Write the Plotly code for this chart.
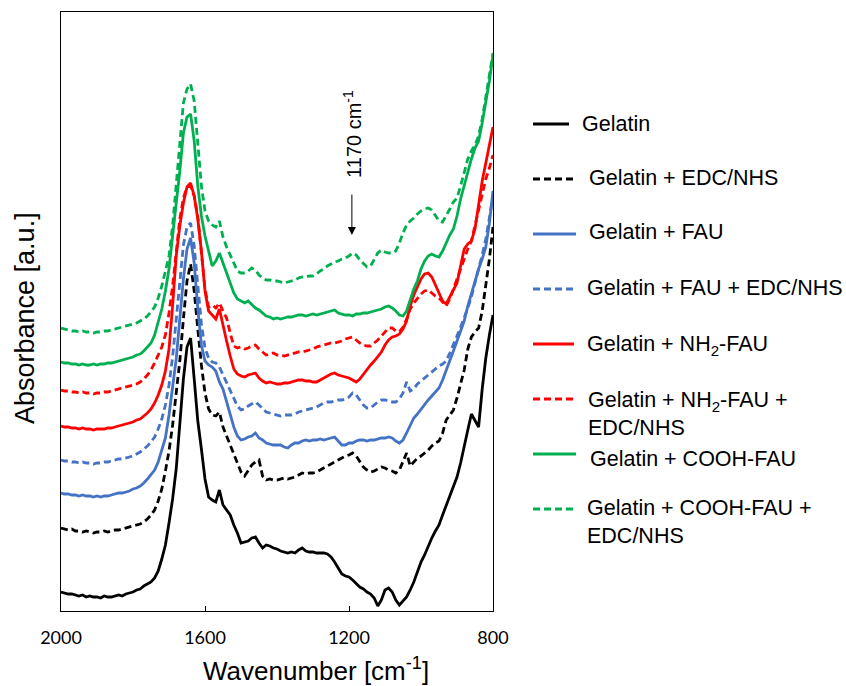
import plotly.graph_objects as go

# FTIR spectra, stacked with vertical offsets (absorbance in arbitrary units)
wavenumber = list(range(2000, 799, -10))  # cm-1, 2000 -> 800

gelatin = [
    19, 18, 17, 17, 16, 15, 16, 14, 15, 14,
    14, 13, 15, 14, 14, 15, 16, 15, 17, 18,
    19, 21, 22, 25, 27, 29, 33, 40, 52, 66,
    88, 112, 142, 188, 232, 264, 273, 232, 190, 162,
    132, 114, 111, 109, 121, 106, 101, 96, 86, 78,
    68, 69, 70, 73, 74, 68, 63, 66, 65, 63,
    62, 60, 59, 58, 59, 58, 61, 63, 60, 59,
    59, 58, 58, 58, 57, 54, 49, 43, 37, 35,
    34, 31, 27, 24, 22, 19, 17, 13, 5, 11,
    21, 23, 19, 11, 6, 10, 14, 21, 29, 39,
    49, 56, 65, 73, 80, 86, 96, 106, 114, 124,
    134, 148, 163, 181, 197, 190, 184, 222, 253, 276,
    296,
]

gelatin_edc = [
    83, 82, 81, 82, 80, 80, 79, 80, 79, 78,
    79, 79, 80, 79, 80, 81, 81, 82, 83, 84,
    85, 86, 87, 89, 92, 96, 101, 110, 122, 140,
    160, 186, 216, 250, 292, 330, 347, 320, 282, 246,
    218, 202, 196, 195, 199, 184, 175, 166, 155, 146,
    139, 135, 141, 146, 149, 151, 135, 131, 132, 131,
    131, 132, 133, 132, 133, 134, 136, 138, 137, 138,
    138, 139, 141, 143, 145, 147, 149, 151, 153, 155,
    156, 158, 155, 149, 144, 141, 139, 140, 142, 144,
    143, 141, 140, 138, 141, 149, 158, 145, 149, 153,
    155, 158, 161, 165, 168, 170, 178, 191, 196, 201,
    213, 227, 241, 262, 274, 279, 283, 300, 325, 352,
    384,
]

gelatin_fau = [
    118, 117, 117, 116, 116, 115, 116, 115, 115, 114,
    115, 114, 115, 115, 116, 117, 118, 118, 119, 120,
    122, 123, 125, 128, 132, 136, 141, 149, 160, 173,
    196, 222, 252, 292, 332, 362, 373, 348, 302, 266,
    250, 246, 244, 240, 229, 222, 210, 196, 184, 175,
    171, 172, 174, 175, 178, 173, 171, 168, 167, 166,
    166, 166, 164, 163, 166, 168, 168, 170, 171, 170,
    171, 171, 172, 171, 172, 173, 174, 170, 166, 166,
    168, 168, 170, 171, 171, 170, 171, 171, 172, 173,
    173, 174, 173, 170, 168, 171, 178, 186, 193, 197,
    202, 207, 211, 215, 219, 223, 231, 240, 250, 260,
    270, 279, 290, 305, 318, 330, 342, 352, 364, 388,
    420,
]

gelatin_fau_edc = [
    151, 150, 150, 149, 149, 148, 149, 148, 148, 147,
    148, 148, 149, 149, 150, 151, 152, 152, 153, 154,
    155, 157, 159, 162, 165, 169, 174, 182, 192, 206,
    226, 254, 290, 330, 366, 384, 388, 365, 322, 287,
    263, 253, 249, 248, 244, 236, 228, 220, 212, 205,
    201, 202, 205, 207, 209, 206, 202, 199, 198, 197,
    196, 195, 196, 196, 196, 197, 199, 200, 201, 202,
    203, 204, 206, 208, 209, 209, 210, 211, 211, 212,
    214, 218, 216, 211, 206, 203, 203, 206, 209, 211,
    211, 210, 209, 209, 212, 218, 229, 220, 222, 227,
    230, 233, 236, 239, 242, 245, 247, 250, 258, 266,
    275, 284, 293, 303, 314, 327, 342, 356, 372, 393,
    415,
]

gelatin_nh2 = [
    185, 184, 184, 183, 183, 182, 183, 182, 182, 181,
    182, 182, 182, 183, 183, 184, 185, 186, 187, 188,
    189, 191, 192, 195, 198, 202, 208, 216, 226, 240,
    262, 305, 355, 385, 408, 424, 428, 415, 392, 360,
    320, 300, 296, 292, 302, 285, 270, 255, 242, 237,
    235, 234, 236, 237, 238, 233, 230, 228, 229, 228,
    227, 227, 228, 228, 229, 230, 231, 231, 230, 230,
    229, 229, 231, 233, 235, 237, 238, 236, 235, 234,
    233, 231, 229, 232, 237, 241, 246, 250, 254, 259,
    266, 271, 274, 275, 277, 282, 290, 305, 316, 325,
    332, 337, 338, 334, 326, 318, 310, 307, 314, 322,
    328, 345, 362, 367, 370, 382, 405, 430, 448, 466,
    484,
]

gelatin_nh2_edc = [
    221, 220, 220, 219, 219, 218, 219, 218, 218, 217,
    218, 218, 219, 219, 220, 221, 222, 223, 224, 225,
    226, 227, 229, 232, 236, 241, 248, 256, 264, 276,
    298, 325, 362, 392, 413, 424, 425, 415, 395, 358,
    322, 304, 306, 303, 308, 300, 293, 278, 265, 263,
    264, 262, 263, 265, 266, 262, 259, 256, 257, 258,
    256, 256, 255, 256, 257, 258, 259, 259, 260, 261,
    262, 264, 265, 266, 267, 268, 268, 269, 270, 272,
    273, 274, 271, 268, 266, 265, 265, 268, 271, 275,
    279, 283, 283, 280, 279, 284, 292, 302, 308, 313,
    317, 320, 321, 318, 315, 313, 309, 305, 312, 322,
    332, 343, 353, 362, 370, 385, 402, 418, 432, 443,
    456,
]

gelatin_cooh = [
    249, 248, 248, 247, 247, 246, 247, 246, 246, 247,
    246, 247, 247, 248, 248, 249, 250, 251, 252, 253,
    254, 256, 257, 260, 264, 268, 276, 288, 302, 320,
    342, 375, 405, 440, 478, 494, 497, 470, 425, 395,
    375, 360, 345, 350, 358, 348, 338, 328, 318, 312,
    310, 308, 310, 306, 303, 301, 298, 295, 294, 292,
    293, 292, 293, 294, 294, 295, 296, 296, 295, 296,
    297, 296, 297, 298, 299, 300, 301, 298, 297, 296,
    296, 295, 297, 297, 298, 298, 299, 300, 301, 302,
    304, 305, 303, 300, 296, 295, 300, 312, 322, 330,
    342, 350, 355, 357, 355, 354, 360, 368, 376, 382,
    395, 412, 425, 440, 452, 463, 470, 488, 507, 530,
    556,
]

gelatin_cooh_edc = [
    283, 282, 281, 280, 280, 279, 280, 279, 279, 278,
    279, 279, 280, 280, 281, 282, 283, 284, 285, 286,
    287, 288, 290, 292, 295, 299, 304, 313, 325, 340,
    355, 385, 425, 470, 508, 522, 527, 510, 470, 425,
    400, 390, 386, 384, 390, 374, 364, 356, 347, 340,
    338, 338, 340, 343, 341, 336, 333, 331, 331, 330,
    330, 329, 328, 329, 330, 331, 333, 334, 334, 335,
    335, 337, 340, 342, 345, 347, 349, 350, 352, 353,
    355, 358, 356, 351, 347, 344, 345, 352, 358, 361,
    359, 358, 358, 360, 368, 378, 386, 390, 393, 397,
    400, 402, 403, 401, 395, 390, 389, 395, 402, 409,
    413, 425, 440, 452, 460, 466, 475, 492, 514, 535,
    558,
]

labels = [
    "Gelatin",
    "Gelatin + EDC/NHS",
    "Gelatin + FAU",
    "Gelatin + FAU + EDC/NHS",
    "Gelatin + NH<sub>2</sub>-FAU",
    "Gelatin + NH<sub>2</sub>-FAU +<br>EDC/NHS",
    "Gelatin + COOH-FAU",
    "Gelatin + COOH-FAU +<br>EDC/NHS",
]
spectra = [gelatin, gelatin_edc, gelatin_fau, gelatin_fau_edc,
           gelatin_nh2, gelatin_nh2_edc, gelatin_cooh, gelatin_cooh_edc]
colors = ["#000000", "#000000", "#4472C4", "#4472C4",
          "#FF0000", "#FF0000", "#00B050", "#00B050"]
dashes = ["solid", "7px,4px"] * 4

for s in spectra:
    assert len(s) == len(wavenumber)

# band marker
band_wn = 1192
band_label = "1170 cm<sup>-1</sup>"

W, H = 846, 686
L, R, T, B = 61, 493, 12, 611  # plot area in pixels
Y_MAX = 599


def fx(px):
    return (px - L) / (R - L)


def fy(py):
    return (B - py) / (B - T)


ARIAL = "Liberation Sans, Arial, sans-serif"

fig = go.Figure()
for name, ys, c, d in zip(labels, spectra, colors, dashes):
    fig.add_trace(go.Scatter(
        x=wavenumber, y=ys, mode="lines", name=name, showlegend=False,
        line=dict(color=c, width=2.8, dash=d),
    ))

annotations = []
shapes = []

# legend drawn beside the plot
leg_line_y = [124, 179, 234, 289, 344, 399, 454, 509]
leg_line_x1 = [569, 576, 576, 574, 574, 575, 576, 574]
leg_text_x = [580, 587, 587, 585, 585, 586, 588, 585]
leg_text_y = [124, 178, 232, 288, 345, 414, 459, 522]
for i in range(len(labels)):
    shapes.append(dict(
        type="line", xref="paper", yref="paper",
        x0=fx(533), x1=fx(leg_line_x1[i]), y0=fy(leg_line_y[i]), y1=fy(leg_line_y[i]),
        line=dict(color=colors[i], width=3, dash=dashes[i]),
    ))
    annotations.append(dict(
        xref="paper", yref="paper", x=fx(leg_text_x[i]), y=fy(leg_text_y[i]),
        xanchor="left", yanchor="middle", align="left", showarrow=False,
        text=labels[i], font=dict(family=ARIAL, size=21.5, color="black"),
    ))

# axis titles
annotations.append(dict(
    xref="paper", yref="paper", x=fx(316), y=fy(669),
    xanchor="center", yanchor="middle", showarrow=False,
    text="Wavenumber [cm<sup>-1</sup>]", font=dict(family=ARIAL, size=26, color="black"),
))
annotations.append(dict(
    xref="paper", yref="paper", x=fx(25), y=fy(318),
    xanchor="center", yanchor="middle", showarrow=False, textangle=-90,
    text="Absorbance [a.u.]", font=dict(family=ARIAL, size=27, color="black"),
))

# 1170 cm-1 band: arrow and label
annotations.append(dict(
    xref="x", yref="y", axref="x", ayref="y",
    x=band_wn, y=376, ax=band_wn, ay=418,
    text="", showarrow=True, arrowhead=2, arrowsize=1.6, arrowwidth=1,
    arrowcolor="black", standoff=0, startstandoff=0,
))
annotations.append(dict(
    xref="x", yref="y", x=band_wn, y=477, textangle=-90,
    xanchor="center", yanchor="middle", showarrow=False,
    text=band_label, font=dict(family=ARIAL, size=20, color="black"),
))

fig.update_layout(
    width=W, height=H, autosize=False,
    margin=dict(l=L, r=W - R, t=T, b=H - B, pad=0),
    paper_bgcolor="white", plot_bgcolor="white",
    showlegend=False,
    xaxis=dict(
        range=[2000, 800], tickvals=[2000, 1600, 1200, 800],
        ticks="inside", ticklen=5, tickwidth=1, tickcolor="black",
        showline=True, linecolor="black", linewidth=1.3, mirror=True,
        showgrid=False, zeroline=False, ticklabelstandoff=10,
        tickfont=dict(family="Lato", size=18, color="black"),
    ),
    yaxis=dict(
        range=[0, Y_MAX], showticklabels=False, ticks="",
        showline=True, linecolor="black", linewidth=1.3, mirror=True,
        showgrid=False, zeroline=False,
    ),
    shapes=shapes, annotations=annotations,
)

fig.write_html("out.html")
